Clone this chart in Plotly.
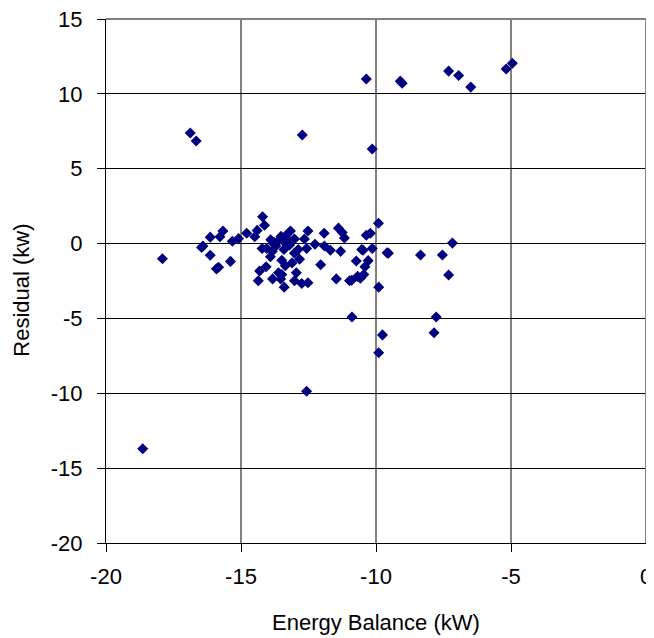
import plotly.graph_objects as go

# Energy balance (kW) vs residual (kw)
energy_balance = [
    -18.64, -17.91, -16.88, -16.66, -12.73, -12.57, -10.36, -10.14, -9.10, -9.03,
    -7.31, -6.94, -6.49, -5.18, -4.95, -10.89, -9.76, -9.90, -7.85, -7.77,
    -7.31, -7.17, -7.54, -8.35, -9.59, -9.54, -9.91, -9.90,
    -16.41, -16.46, -16.14, -15.67, -15.78, -16.14, -15.91, -15.83, -15.39, -15.32,
    -15.09, -14.79, -14.49, -14.40, -14.20, -14.13, -14.22, -14.36, -14.31, -14.07,
    -13.83, -14.05, -13.90, -13.76, -13.91, -13.84, -13.71, -13.52, -13.33, -13.17,
    -13.41, -13.29, -13.02, -13.49, -13.36, -13.11, -13.61, -13.49, -13.53, -13.40,
    -12.95, -13.02, -12.75, -12.52, -12.83, -13.02, -12.88, -12.65, -12.57, -12.52,
    -12.26, -12.05, -11.92, -11.91, -11.69, -11.47, -11.39, -11.31, -11.25, -11.17,
    -10.98, -10.90, -10.73, -10.68, -10.53, -10.48, -10.58, -10.45, -10.41, -10.29,
    -10.36, -10.21, -10.14, -13.60, -13.40, -13.20, -13.80,
]
residual = [
    -13.71, -1.02, 7.39, 6.85, 7.25, -9.87, 10.99, 6.32, 10.85, 10.71,
    11.52, 11.23, 10.45, 11.66, 12.04, -4.91, -6.10, -7.29, -5.96, -4.91,
    -2.10, 0.03, -0.76, -0.76, -0.62, -0.64, 1.36, -2.91,
    -0.16, -0.26, 0.43, 0.84, 0.46, -0.78, -1.69, -1.58, -1.19, 0.15,
    0.34, 0.69, 0.46, 0.88, 1.79, 1.22, -0.33, -2.48, -1.83, -1.55,
    -2.36, -0.33, 0.26, 0.07, -0.88, -0.52, -0.16, 0.48, 0.55, 0.84,
    -0.40, 0.31, 0.31, -1.12, -1.48, -1.29, -1.95, -2.07, -2.36, -2.91,
    -1.95, -2.48, -2.67, -2.62, -1.05, -0.64, -0.40, 0.31, -0.33, 0.84,
    -0.05, -1.41, 0.69, -0.16, -0.45, -2.36, 1.03, -0.52, 0.74, 0.38,
    -2.48, -2.45, -1.17, -2.19, -0.40, -0.45, -2.31, -2.07, -1.55, -1.14,
    0.55, 0.69, -0.33, 0.20, 0.10, -0.10, 0.00,
]

x_ticks = [-20, -15, -10, -5, 0]
y_ticks = [-20, -15, -10, -5, 0, 5, 10, 15]

font = "Arial, Liberation Sans, sans-serif"

fig = go.Figure()

fig.add_trace(go.Scatter(
    x=energy_balance,
    y=residual,
    mode='markers',
    marker=dict(symbol='diamond', size=8.5, color='#000080', line=dict(width=0)),
    showlegend=False,
))

# Gray border on top and right of the plot area
fig.add_shape(type='line', xref='paper', yref='paper', x0=0, x1=1, y0=1, y1=1,
              line=dict(color='#808080', width=2))
fig.add_shape(type='line', xref='paper', yref='paper', x0=1, x1=1, y0=0, y1=1,
              line=dict(color='#808080', width=2))

# Axis titles as annotations so the plot area stays put
fig.add_annotation(text='Energy Balance (kW)', xref='paper', yref='paper',
                   x=0.5, y=-0.151, xanchor='center', yanchor='middle',
                   showarrow=False, font=dict(size=22))
fig.add_annotation(text='Residual (kw)', xref='paper', yref='paper',
                   x=-0.156, y=0.483, xanchor='center', yanchor='middle',
                   textangle=-90, showarrow=False, font=dict(size=22))

# the page body adds 8px on the left and top, so the figure is sized to suit
fig.update_layout(
    width=646,
    height=630,
    margin=dict(l=98, r=8, t=11, b=95),
    plot_bgcolor='white',
    paper_bgcolor='white',
    font=dict(family=font, size=22, color='black'),
    xaxis=dict(
        range=[-20, 0],
        tickvals=x_ticks,
        ticktext=[str(v) for v in x_ticks],
        automargin=False,
        ticklabeloverflow='allow',
        showgrid=True,
        gridcolor='#808080',
        gridwidth=2,
        zeroline=False,
        showline=True,
        linecolor='black',
        linewidth=1,
        ticks='outside',
        ticklen=8,
        tickcolor='black',
        ticklabelstandoff=6,
    ),
    yaxis=dict(
        range=[-20, 15],
        tickvals=y_ticks,
        ticktext=[str(v) for v in y_ticks],
        automargin=False,
        ticklabeloverflow='allow',
        showgrid=True,
        gridcolor='black',
        gridwidth=1,
        zeroline=False,
        showline=True,
        linecolor='black',
        linewidth=1,
        ticks='outside',
        ticklen=8,
        tickcolor='black',
        ticklabelstandoff=10,
    ),
)

fig.write_html("out.html")
